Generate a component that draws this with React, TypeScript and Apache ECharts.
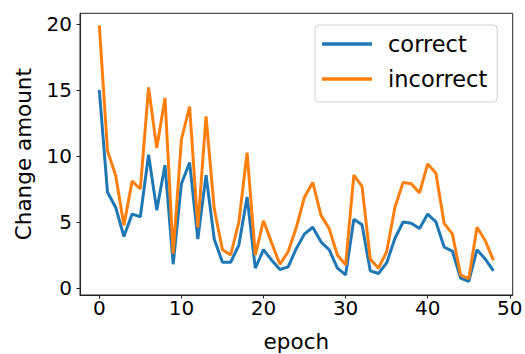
import React, { useEffect, useRef } from "react";
import * as echarts from "echarts";

const correct = [15.0, 7.25, 6.1, 3.9, 5.6, 5.4, 10.1, 5.9, 9.3, 1.8, 7.9, 9.5, 3.7, 8.55, 3.7, 1.95, 1.95, 3.25, 6.9, 1.5, 2.9, 2.1, 1.4, 1.6, 3.0, 4.1, 4.6, 3.5, 2.9, 1.5, 1.0, 5.2, 4.8, 1.3, 1.1, 1.9, 3.75, 5.0, 4.9, 4.5, 5.6, 5.0, 3.1, 2.8, 0.75, 0.5, 2.9, 2.2, 1.3];
const incorrect = [19.9, 10.4, 8.5, 4.75, 8.1, 7.5, 15.2, 10.6, 14.4, 2.6, 11.25, 13.75, 4.6, 13.0, 6.0, 2.9, 2.5, 5.0, 10.25, 2.5, 5.1, 3.4, 1.8, 2.75, 4.6, 6.9, 8.0, 5.5, 4.5, 2.5, 1.75, 8.55, 7.7, 2.2, 1.5, 2.75, 6.1, 8.0, 7.9, 7.2, 9.4, 8.7, 4.9, 4.1, 1.0, 0.7, 4.6, 3.6, 2.1];
const xTicks = [0, 10, 20, 30, 40, 50];
const yTicks = [0, 5, 10, 15, 20];
const seriesNames = ["correct", "incorrect"];
const colors = ["#1f77b4", "#ff7f0e"];

const FONT = "DejaVu Sans";

export default function App() {
  const ref = useRef<HTMLDivElement>(null);
  useEffect(() => {
    if (!ref.current) return;
    document.body.style.margin = "0";
    const chart = echarts.init(ref.current, null, { renderer: "svg" });
    const toPairs = (arr: number[]) => arr.map((v, i) => [i, v]);
    chart.setOption({
      animation: false,
      backgroundColor: "#ffffff",
      grid: {
        left: 80,
        right: 12.3,
        top: 13.3,
        bottom: 59,
        outerBoundsMode: "none",
        containLabel: false,
        show: true,
        borderColor: "#222",
        borderWidth: 1,
        backgroundColor: "transparent",
      },
      legend: {
        data: seriesNames.map((n) => ({ name: n, icon: "rect" })),
        orient: "vertical",
        left: 315,
        top: 25,
        padding: [6, 10, 10, 7],
        itemWidth: 50,
        itemHeight: 3.5,
        itemGap: 9,
        borderColor: "#d0d0d0",
        borderWidth: 1,
        borderRadius: 4,
        backgroundColor: "rgba(255,255,255,0.8)",
        textStyle: {
          fontFamily: FONT,
          fontSize: 22.5,
          color: "#000",
          lineHeight: 26,
          padding: [0, 0, 0, 11],
        },
      },
      xAxis: {
        type: "value",
        min: -2.35,
        max: 50.35,
        name: "epoch",
        nameLocation: "middle",
        nameGap: 35,
        nameTextStyle: { fontFamily: FONT, fontSize: 21.5, color: "#000" },
        axisLine: { show: true, onZero: false, lineStyle: { color: "#222", width: 1 } },
        axisTick: {
          show: true,
          length: 3.5,
          customValues: xTicks,
          lineStyle: { color: "#222" },
        },
        axisLabel: {
          customValues: xTicks,
          fontFamily: FONT,
          fontSize: 20,
          color: "#000",
          margin: 3,
        },
        splitLine: { show: false },
      },
      yAxis: {
        type: "value",
        min: -0.53,
        max: 20.81,
        name: "Change amount",
        nameLocation: "middle",
        nameGap: 46,
        nameTextStyle: { fontFamily: FONT, fontSize: 21.5, color: "#000" },
        axisLine: { show: true, onZero: false, lineStyle: { color: "#222", width: 1 } },
        axisTick: {
          show: true,
          length: 3.5,
          customValues: yTicks,
          lineStyle: { color: "#222" },
        },
        axisLabel: {
          customValues: yTicks,
          fontFamily: FONT,
          fontSize: 20,
          color: "#000",
          margin: 8,
        },
        splitLine: { show: false },
      },
      series: [
        {
          name: seriesNames[0],
          type: "line",
          data: toPairs(correct),
          showSymbol: false,
          lineStyle: { width: 3, color: colors[0] },
          itemStyle: { color: colors[0] },
        },
        {
          name: seriesNames[1],
          type: "line",
          data: toPairs(incorrect),
          showSymbol: false,
          lineStyle: { width: 3, color: colors[1] },
          itemStyle: { color: colors[1] },
        },
      ],
    });
    return () => chart.dispose();
  }, []);
  return (
    <div
      ref={ref}
      style={{ position: "absolute", left: 0, top: 0, width: 525, height: 354 }}
    />
  );
}
